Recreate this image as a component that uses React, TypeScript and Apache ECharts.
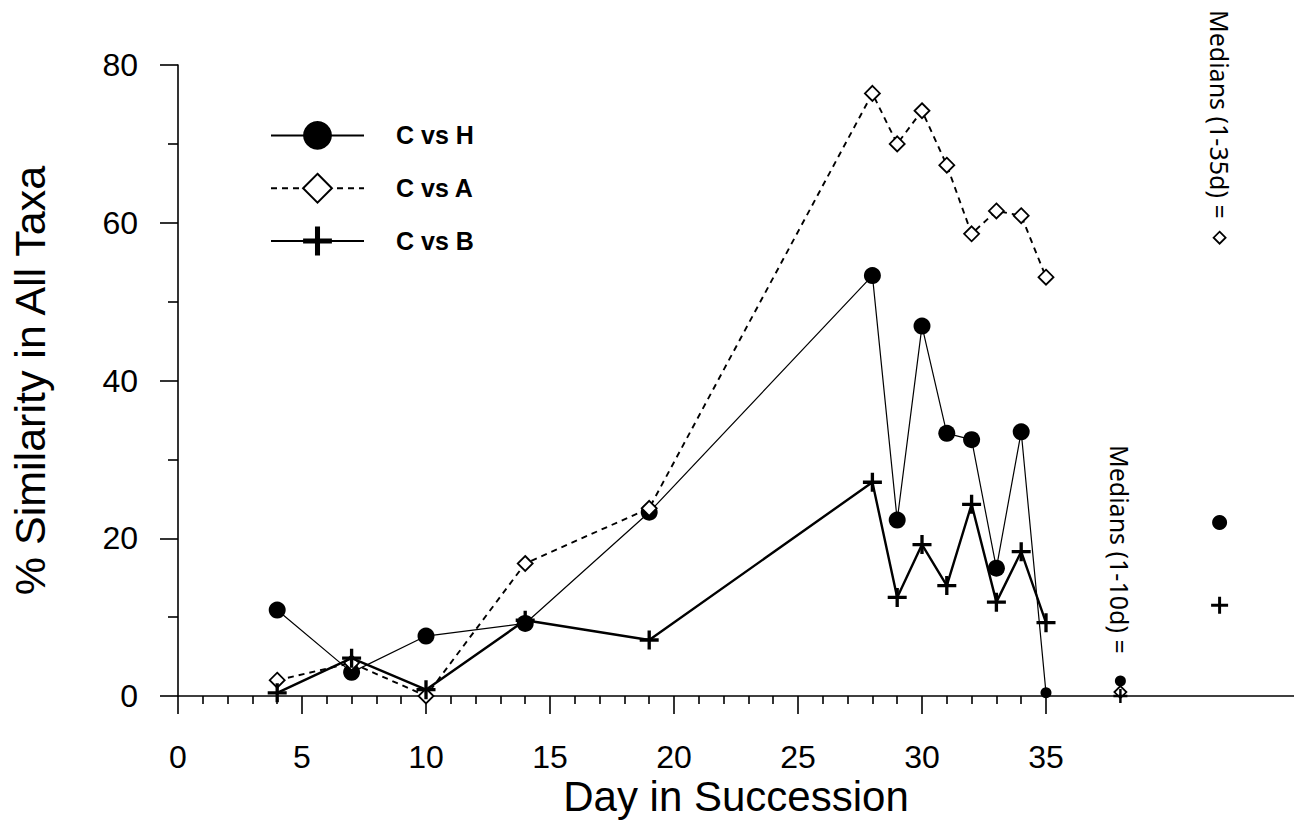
import React, { useEffect, useRef } from "react";
import * as echarts from "echarts";

// ---- data ----
const days = [4, 7, 10, 14, 19, 28, 29, 30, 31, 32, 33, 34, 35];
const cvsH = [10.9, 3.0, 7.6, 9.2, 23.3, 53.3, 22.3, 46.9, 33.3, 32.5, 16.2, 33.5, 0.4];
const cvsA = [2.0, 4.2, 0.0, 16.8, 23.8, 76.4, 70.0, 74.2, 67.3, 58.6, 61.5, 60.9, 53.1];
const cvsB = [0.4, 4.8, 0.8, 9.6, 7.1, 27.1, 12.5, 19.2, 14.0, 24.3, 11.9, 18.3, 9.3];

const medianDays = [38, 42]; // positions of "Medians (1-10d)" and "Medians (1-35d)"
const medianH = [1.9, 22.0];
const medianA = [0.5, 58.1];
const medianB = [0.0, 11.5];

const seriesNames = ["C vs H", "C vs A", "C vs B"];
const medianLabels = ["Medians (1-10d) =", "Medians (1-35d) ="];
const xTitle = "Day in Succession";
const yTitle = "% Similarity in All Taxa";

const PLUS = "path://M-1.4,-8H1.4V-1.4H8V1.4H1.4V8H-1.4V1.4H-8V-1.4H-1.4Z";
const FONT = "'Liberation Sans', Arial, sans-serif";

const pairs = (xs: number[], ys: number[]) => xs.map((x, i) => [x, ys[i]]);

export default function App() {
  const ref = useRef<HTMLDivElement>(null);

  useEffect(() => {
    if (!ref.current) return;
    const chart = echarts.init(ref.current, null, { renderer: "svg" });
    const black = "#000";

    const option: any = {
      animation: false,
      backgroundColor: "#fff",
      legend: {
        data: seriesNames,
        orient: "vertical",
        left: 270,
        top: 121,
        padding: 0,
        itemWidth: 93,
        itemHeight: 36,
        itemGap: 23,
        textStyle: {
          fontFamily: FONT,
          fontSize: 25,
          fontWeight: "bold",
          color: black,
          padding: [0, 0, 0, 27],
        },
      },
      grid: [
        { left: 178, top: 65, width: 1116, height: 631 },
        { left: 178, top: 65, width: 868, height: 631 },
      ],
      xAxis: [
        {
          gridIndex: 0,
          type: "value",
          min: 0,
          max: 45,
          axisLine: { show: true, lineStyle: { color: black, width: 1.6 } },
          axisTick: { show: false },
          axisLabel: { show: false },
          splitLine: { show: false },
          name: xTitle,
          nameLocation: "middle",
          nameGap: 79,
          nameTextStyle: { fontFamily: FONT, fontSize: 42, color: black },
        },
        {
          gridIndex: 1,
          type: "value",
          min: 0,
          max: 35,
          interval: 5,
          axisLine: { show: false },
          axisTick: { show: true, length: 18, lineStyle: { color: black, width: 1.6 } },
          minorTick: { show: true, splitNumber: 5, length: 8, lineStyle: { color: black, width: 1.6 } },
          axisLabel: { fontFamily: FONT, fontSize: 32, color: black, margin: 45 },
          splitLine: { show: false },
          minorSplitLine: { show: false },
        },
      ],
      yAxis: [
        {
          gridIndex: 0,
          type: "value",
          min: 0,
          max: 80,
          interval: 20,
          axisLine: { show: true, lineStyle: { color: black, width: 1.6 } },
          axisTick: { show: true, length: 18, lineStyle: { color: black, width: 1.6 } },
          minorTick: { show: true, splitNumber: 2, length: 10, lineStyle: { color: black, width: 1.6 } },
          axisLabel: { fontFamily: FONT, fontSize: 32, color: black, margin: 40 },
          splitLine: { show: false },
          name: yTitle,
          nameLocation: "middle",
          nameGap: 127,
          nameRotate: 90,
          nameTextStyle: { fontFamily: FONT, fontSize: 43, color: black },
        },
        { gridIndex: 1, type: "value", min: 0, max: 80, show: false },
      ],
      series: [
        {
          name: seriesNames[0],
          type: "line",
          data: pairs(days, cvsH),
          symbol: "circle",
          symbolSize: (_v: any, p: any) => (p.dataIndex === days.length - 1 ? 11 : 17),
          lineStyle: { color: black, width: 1.2 },
          itemStyle: { color: black },
          clip: false,
          z: 3,
        },
        {
          name: seriesNames[1],
          type: "line",
          data: pairs(days, cvsA),
          symbol: "diamond",
          symbolSize: 15,
          lineStyle: { color: black, width: 1.9, type: [6, 5] },
          itemStyle: { color: "#fff", borderColor: black, borderWidth: 1.8 },
          clip: false,
          z: 4,
        },
        {
          name: seriesNames[2],
          type: "line",
          data: pairs(days, cvsB),
          symbol: PLUS,
          symbolSize: 19,
          lineStyle: { color: black, width: 2.4 },
          itemStyle: { color: black },
          clip: false,
          z: 5,
        },
        {
          name: "median H",
          type: "scatter",
          data: pairs(medianDays, medianH),
          symbol: "circle",
          symbolSize: (_v: any, p: any) => (p.dataIndex === 0 ? 11 : 15),
          itemStyle: { color: black, opacity: 1 },
          clip: false,
        },
        {
          name: "median A",
          type: "scatter",
          data: pairs(medianDays, medianA),
          symbol: "diamond",
          symbolSize: 12,
          itemStyle: { color: "#fff", borderColor: black, borderWidth: 1.8, opacity: 1 },
          clip: false,
        },
        {
          name: "median B",
          type: "scatter",
          data: pairs(medianDays, medianB),
          symbol: PLUS,
          symbolSize: (_v: any, p: any) => (p.dataIndex === 0 ? 14 : 17),
          itemStyle: { color: black, opacity: 1 },
          clip: false,
        },
      ],
    };
    chart.setOption(option);

    const tops = [445, 10];
    const graphics = medianDays.map((d, i) => {
      const px = chart.convertToPixel({ xAxisIndex: 0, yAxisIndex: 0 } as any, [d, 0]) as number[];
      return {
        type: "text",
        x: px[0],
        y: tops[i],
        rotation: -Math.PI / 2,
        style: {
          text: medianLabels[i],
          fontFamily: "'Noto Sans', 'Open Sans', sans-serif",
          fontSize: 25,
          fill: black,
          textAlign: "left",
          textVerticalAlign: "middle",
        },
      };
    });
    chart.setOption({ graphic: graphics });

    return () => chart.dispose();
  }, []);

  return (
    <div
      ref={ref}
      style={{ position: "absolute", left: 0, top: 0, width: 1294, height: 830, background: "#fff" }}
    />
  );
}
